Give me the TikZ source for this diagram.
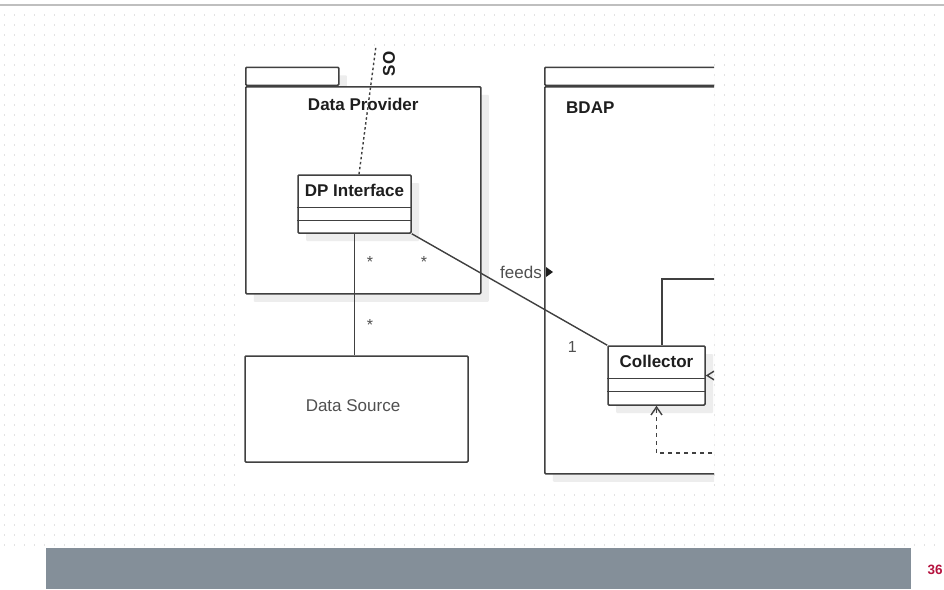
\documentclass[tikz,border=0pt]{standalone}
\usepackage{fontspec}
\setmainfont{Liberation Sans}
\usepackage{tikz}
\usetikzlibrary{calc, positioning, arrows.meta, shadows}

\definecolor{umlline}{HTML}{404040}
\definecolor{umltext}{HTML}{1E1E1E}
\definecolor{umlgray}{HTML}{505050}
\definecolor{umlshadow}{HTML}{EDEDED}
\definecolor{gridgray}{HTML}{E2E2E2}
\definecolor{footbar}{HTML}{848F99}
\definecolor{pagenum}{HTML}{B5123E}

\tikzset{
  umlbox/.style={draw=umlline, fill=white, line width=1.5pt, rounded corners=1pt},
  shadowed/.style={drop shadow={shadow xshift=8pt, shadow yshift=-8pt, fill=umlshadow, opacity=1}},
  pkgtab/.style={umlbox, shadowed, anchor=south west, minimum height=18pt, inner sep=0pt},
  pkgbody/.style={umlbox, shadowed, anchor=north west, inner sep=0pt},
  classbox/.style={umlbox, shadowed, minimum height=58pt, inner sep=0pt},
  boldlabel/.style={font=\fontsize{17}{20}\selectfont\bfseries, text=umltext, inner sep=0pt},
  plainlabel/.style={font=\fontsize{17}{20}\selectfont, text=umlgray, inner sep=0pt},
  multlabel/.style={font=\fontsize{16}{18}\selectfont, text=umlgray, inner sep=0pt},
  assoc/.style={draw=umlline, line width=1.4pt},
  griddots/.style={draw=gridgray, line width=1.2pt, dash pattern=on 1.2pt off 8.8pt},
}

\begin{document}
\begin{tikzpicture}[x=1pt, y=-1pt]
\useasboundingbox (0,0) rectangle (944,589);

% slide background
\foreach \gy in {15,25,...,545}
  \draw[griddots] (4,\gy) -- (944,\gy);
\fill[white] (236,47) rectangle (714,492);
\draw[draw=black!25, line width=2pt] (0,5) -- (944,5);

\begin{scope}
\clip (0,40) rectangle (714,500);

% packages
\node[pkgtab, minimum width=93pt] (dptab) at (245,86) {};
\node[pkgbody, minimum width=235pt, minimum height=207pt] (dp) at (dptab.south west) {};
\node[boldlabel] (dpname) at ($(dp.north)+(0,18)$) {Data Provider};

\node[pkgtab, minimum width=260pt] (bdaptab) at (544,86) {};
\node[pkgbody, minimum width=300pt, minimum height=387pt] (bdap) at (bdaptab.south west) {};
\node[boldlabel, anchor=west] (bdapname) at ($(bdap.north west)+(22,22)$) {BDAP};

% classes
\node[classbox, minimum width=113pt] (dpi) at (354.5,204) {};
\node[boldlabel] (dpititle) at ($(dpi.north)+(0,16.5)$) {DP Interface};

\node[classbox, minimum width=97pt, minimum height=59pt] (coll) at (656.5,375.5) {};
\node[boldlabel] (colltitle) at ($(coll.north)+(0,16.5)$) {Collector};

\foreach \cls in {dpi,coll} {
  \draw[assoc] ($(\cls.north west)+(0,33)$) -- ($(\cls.north east)+(0,33)$);
  \draw[assoc] ($(\cls.north west)+(0,46)$) -- ($(\cls.north east)+(0,46)$);
}

\node[umlbox, minimum width=223pt, minimum height=106pt] (ds) at (356.5,409) {};
\node[plainlabel] (dsname) at ($(ds.center)+(-3.5,-3)$) {Data Source};

% connectors
\coordinate (sotop) at (376,46);
\coordinate (aggrend) at (760,279);
\coordinate (diamstart) at (780,375.5);
\coordinate (depstart) at (760,453);

\draw[assoc, dash pattern=on 2.5pt off 2.5pt] ($(dpi.north)+(4.5,0)$) -- (sotop);
\node[boldlabel, rotate=90] (solabel) at (389,64) {SO};

\draw[assoc] (dpi.south) -- (dpi.south |- ds.north);
\draw[assoc] (dpi.south east) -- (coll.north west);
\draw[assoc] ($(coll.north)+(5.5,0)$) |- (aggrend);
\draw[assoc, -{Diamond[open, length=16pt, width=10pt]}] (diamstart) -- (coll.east);
\draw[assoc, dash pattern=on 4pt off 4pt, -{Straight Barb[length=8pt, width=11pt]}] (depstart) -| (coll.south);

\node[plainlabel] (feeds) at (521,272) {feeds};
\fill[umltext] ($(feeds.east)+(4,-5)$) -- ++(7,5) -- ++(-7,5) -- cycle;

\node[multlabel] (multa) at ($(dpi.south)+(15.5,28)$) {*};
\node[multlabel] (multb) at ($(dpi.south)+(69.5,28)$) {*};
\node[multlabel] (multc) at ($(dpi.south)+(15.5,91)$) {*};
\node[multlabel] (multd) at ($(coll.north west)+(-35,2)$) {1};
\end{scope}

% footer
\fill[footbar] (46,548) rectangle (911,589);
\node[font=\fontsize{13.5}{15}\selectfont\bfseries, text=pagenum] (pgnum) at (935,570) {36};
\end{tikzpicture}
\end{document}
